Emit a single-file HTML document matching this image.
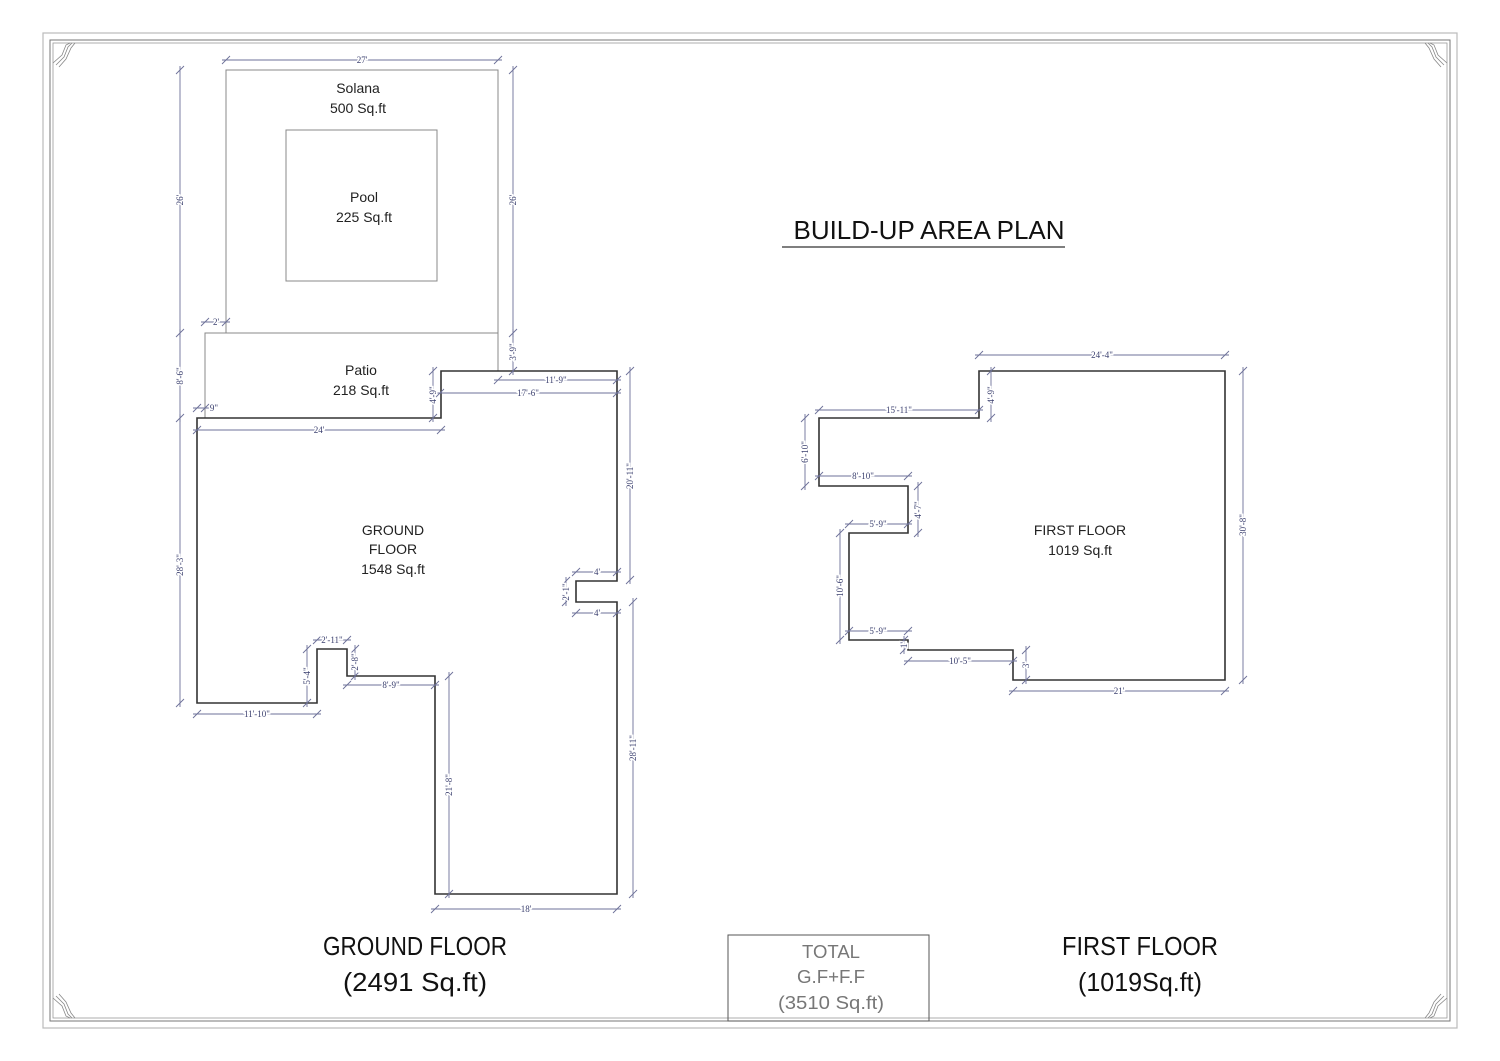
<!DOCTYPE html>
<html><head><meta charset="utf-8"><style>
html,body{margin:0;padding:0;background:#fff}
svg{display:block}
.w{fill:none;stroke:#333;stroke-width:1.6}
.t{fill:none;stroke:#888;stroke-width:1}
.d{stroke:#6d7199;stroke-width:0.9;fill:none}
.dt{font-family:"Liberation Serif",serif;font-size:9px;fill:#3a3f6e;text-anchor:middle;paint-order:stroke;stroke:#fff;stroke-width:3px}
.lb{font-family:"Liberation Sans",sans-serif;font-size:14px;fill:#222;text-anchor:middle}
.big{font-family:"Liberation Sans",sans-serif;font-size:26px;fill:#111;text-anchor:middle}
.tot{font-family:"Liberation Sans",sans-serif;font-size:18px;fill:#777;text-anchor:middle}
</style></head><body>
<svg width="1500" height="1061" viewBox="0 0 1500 1061" xmlns="http://www.w3.org/2000/svg">
<rect x="43" y="33" width="1414" height="995" fill="none" stroke="#bbb" stroke-width="1.2"/>
<rect x="50" y="40" width="1400" height="981" fill="none" stroke="#777" stroke-width="1"/>
<rect x="53" y="43" width="1394" height="975" fill="none" stroke="#999" stroke-width="0.8"/>
<g stroke="#888" stroke-width="0.8" fill="none">
<path d="M53,63 L62,55 L66,45 L70,43 M56,65 L64,57 L68,47 L72,43 M59,67 L66,59 L71,48 L75,43"/>
<path d="M1447,63 L1438,55 L1434,45 L1430,43 M1444,65 L1436,57 L1432,47 L1428,43 M1441,67 L1434,59 L1429,48 L1425,43"/>
<path d="M53,998 L62,1006 L66,1016 L70,1018 M56,996 L64,1004 L68,1014 L72,1018 M59,994 L66,1002 L71,1013 L75,1018"/>
<path d="M1447,998 L1438,1006 L1434,1016 L1430,1018 M1444,996 L1436,1004 L1432,1014 L1428,1018 M1441,994 L1434,1002 L1429,1013 L1425,1018"/>
</g>

<rect class="t" x="226" y="70" width="272" height="263"/>
<rect class="t" x="286" y="130" width="151" height="151"/>
<path class="t" d="M205,418 L205,333 L498,333 L498,371"/>
<text class="lb" x="358" y="93">Solana</text>
<text class="lb" x="358" y="113">500 Sq.ft</text>
<text class="lb" x="364" y="202">Pool</text>
<text class="lb" x="364" y="222">225 Sq.ft</text>
<text class="lb" x="361" y="375">Patio</text>
<text class="lb" x="361" y="395">218 Sq.ft</text>

<path class="w" d="M197,418 L441,418 L441,371 L617,371 L617,581 L576,581 L576,602 L617,602 L617,894 L435,894 L435,676 L347,676 L347,649 L317,649 L317,703 L197,703 Z"/>
<text class="lb" x="393" y="535">GROUND</text>
<text class="lb" x="393" y="554">FLOOR</text>
<text class="lb" x="393" y="574">1548 Sq.ft</text>

<path class="w" d="M979,371 L1225,371 L1225,680 L1013,680 L1013,650 L908,650 L908,640 L849,640 L849,533 L908,533 L908,486 L819,486 L819,418 L979,418 Z"/>
<text class="lb" x="1080" y="535">FIRST FLOOR</text>
<text class="lb" x="1080" y="555">1019 Sq.ft</text>

<g class="d">
<path d="M222,60H502M222,64l8,-8M494,64l8,-8"/>
<path d="M201,322H230M201,326l8,-8M222,326l8,-8"/>
<path d="M193,408H209M193,412l8,-8M201,412l8,-8"/>
<path d="M494,380H621M494,384l8,-8M613,384l8,-8"/>
<path d="M436,393H621M436,397l8,-8M613,397l8,-8"/>
<path d="M193,430H445M193,434l8,-8M437,434l8,-8"/>
<path d="M572,572H621M572,576l8,-8M613,576l8,-8"/>
<path d="M572,613H621M572,617l8,-8M613,617l8,-8"/>
<path d="M313,640H351M313,644l8,-8M343,644l8,-8"/>
<path d="M343,685H439M343,689l8,-8M431,689l8,-8"/>
<path d="M193,714H321M193,718l8,-8M313,718l8,-8"/>
<path d="M431,909H621M431,913l8,-8M613,913l8,-8"/>
<path d="M975,355H1229M975,359l8,-8M1221,359l8,-8"/>
<path d="M815,410H983M815,414l8,-8M975,414l8,-8"/>
<path d="M815,476H912M815,480l8,-8M904,480l8,-8"/>
<path d="M845,524H912M845,528l8,-8M904,528l8,-8"/>
<path d="M845,631H912M845,635l8,-8M904,635l8,-8"/>
<path d="M904,661H1017M904,665l8,-8M1009,665l8,-8"/>
<path d="M1009,691H1229M1009,695l8,-8M1221,695l8,-8"/>
</g>
<g class="d">
<path d="M180,66V337M176,74l8,-8M176,337l8,-8"/>
<path d="M513,66V337M509,74l8,-8M509,337l8,-8"/>
<path d="M513,329V375M509,375l8,-8"/>
<path d="M180,329V422M176,422l8,-8"/>
<path d="M433,367V422M429,375l8,-8M429,422l8,-8"/>
<path d="M180,414V707M176,707l8,-8"/>
<path d="M630,367V584M626,375l8,-8M626,584l8,-8"/>
<path d="M633,598V898M629,606l8,-8M629,898l8,-8"/>
<path d="M566,577V606M562,585l8,-8M562,606l8,-8"/>
<path d="M355,645V680M351,653l8,-8M351,680l8,-8"/>
<path d="M307,645V707M303,653l8,-8M303,707l8,-8"/>
<path d="M449,672V898M445,680l8,-8M445,898l8,-8"/>
<path d="M991,367V422M987,375l8,-8M987,422l8,-8"/>
<path d="M805,414V490M801,422l8,-8M801,490l8,-8"/>
<path d="M918,482V537M914,490l8,-8M914,537l8,-8"/>
<path d="M840,529V644M836,537l8,-8M836,644l8,-8"/>
<path d="M904,636V654M900,644l8,-8M900,654l8,-8"/>
<path d="M1026,646V684M1022,654l8,-8M1022,684l8,-8"/>
<path d="M1243,367V684M1239,375l8,-8M1239,684l8,-8"/>
</g>
<g class="dt">
<text x="362" y="63">27'</text>
<text x="216" y="325">2'</text>
<text x="214" y="411">9"</text>
<text x="556" y="383">11'-9"</text>
<text x="528" y="396">17'-6"</text>
<text x="319" y="433">24'</text>
<text x="597" y="575">4'</text>
<text x="597" y="616">4'</text>
<text x="332" y="643">2'-11"</text>
<text x="391" y="688">8'-9"</text>
<text x="257" y="717">11'-10"</text>
<text x="526" y="912">18'</text>
<text x="1102" y="358">24'-4"</text>
<text x="899" y="413">15'-11"</text>
<text x="863" y="479">8'-10"</text>
<text x="878" y="527">5'-9"</text>
<text x="878" y="634">5'-9"</text>
<text x="960" y="664">10'-5"</text>
<text x="1119" y="694">21'</text>
</g>
<g class="dt">
<text transform="translate(183,200) rotate(-90)">26'</text>
<text transform="translate(516,200) rotate(-90)">26'</text>
<text transform="translate(516,352) rotate(-90)">3'-9"</text>
<text transform="translate(183,376) rotate(-90)">8'-6"</text>
<text transform="translate(436,395) rotate(-90)">4'-9"</text>
<text transform="translate(183,565) rotate(-90)">28'-3"</text>
<text transform="translate(633,476) rotate(-90)">20'-11"</text>
<text transform="translate(636,748) rotate(-90)">28'-11"</text>
<text transform="translate(569,592) rotate(-90)">2'-1"</text>
<text transform="translate(358,662) rotate(-90)">2'-8"</text>
<text transform="translate(310,676) rotate(-90)">5'-4"</text>
<text transform="translate(452,785) rotate(-90)">21'-8"</text>
<text transform="translate(994,395) rotate(-90)">4'-9"</text>
<text transform="translate(808,452) rotate(-90)">6'-10"</text>
<text transform="translate(921,510) rotate(-90)">4'-7"</text>
<text transform="translate(843,586) rotate(-90)">10'-6"</text>
<text transform="translate(907,645) rotate(-90)">1'</text>
<text transform="translate(1029,665) rotate(-90)">3'</text>
<text transform="translate(1246,525) rotate(-90)">30'-8"</text>
</g>

<text class="big" x="929" y="239" textLength="271" lengthAdjust="spacingAndGlyphs">BUILD-UP AREA PLAN</text>
<line x1="782" y1="247" x2="1065" y2="247" stroke="#333" stroke-width="1.2"/>
<text class="big" x="415" y="955" textLength="184" lengthAdjust="spacingAndGlyphs">GROUND FLOOR</text>
<text class="big" x="415" y="991" textLength="144" lengthAdjust="spacingAndGlyphs">(2491 Sq.ft)</text>
<text class="big" x="1140" y="955" textLength="156" lengthAdjust="spacingAndGlyphs">FIRST FLOOR</text>
<text class="big" x="1140" y="991" textLength="124" lengthAdjust="spacingAndGlyphs">(1019Sq.ft)</text>
<rect x="728" y="935" width="201" height="86" fill="none" stroke="#555" stroke-width="1"/>
<text class="tot" x="831" y="958" textLength="58" lengthAdjust="spacingAndGlyphs">TOTAL</text>
<text class="tot" x="831" y="983" textLength="68" lengthAdjust="spacingAndGlyphs">G.F+F.F</text>
<text class="tot" x="831" y="1009" textLength="106" lengthAdjust="spacingAndGlyphs">(3510 Sq.ft)</text>
</svg>
</body></html>
